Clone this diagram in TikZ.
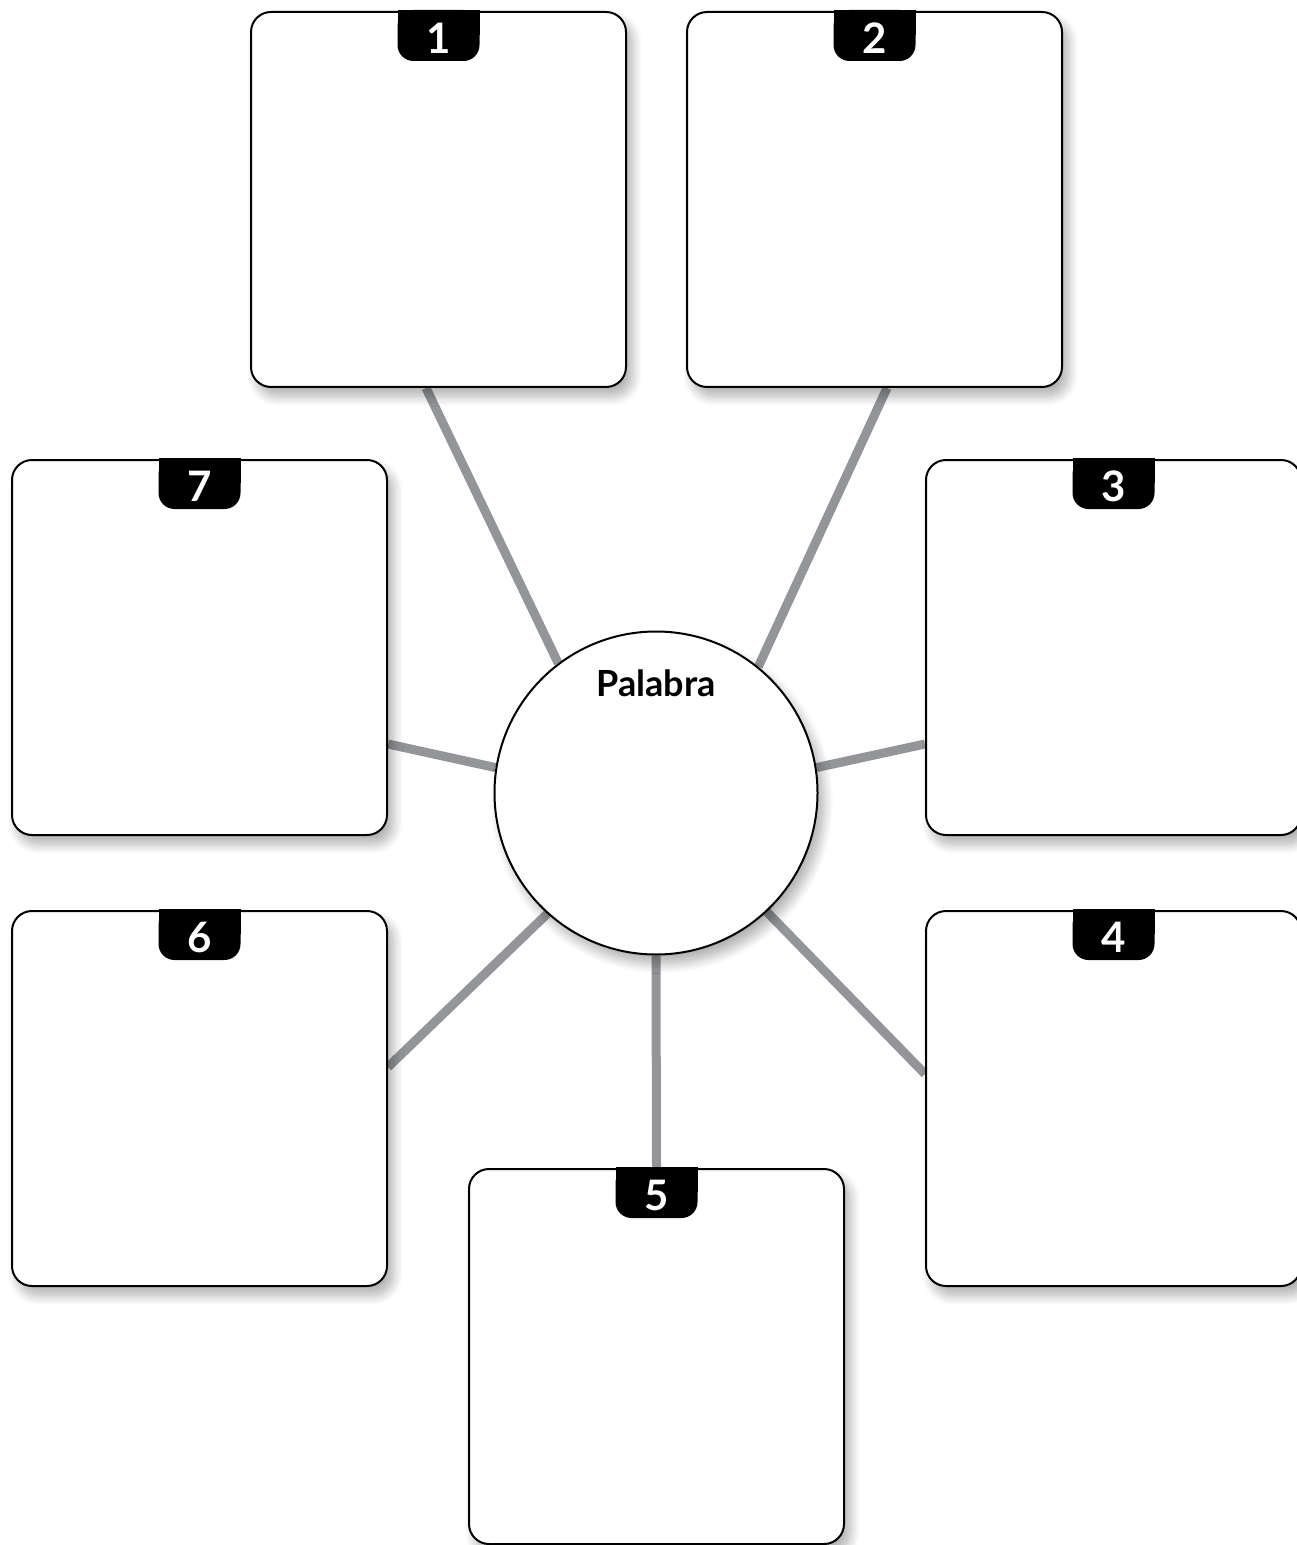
\documentclass[tikz,border=0pt]{standalone}
\usepackage{fontspec}
\setmainfont{Lato}
\usetikzlibrary{shadows.blur,calc,backgrounds}
\definecolor{linkgray}{HTML}{939598}
\tikzset{
  softshadow/.style={blur shadow={shadow xshift=3pt, shadow yshift=-4.5pt, shadow blur radius=5pt, shadow blur steps=10, shadow opacity=32}},
  card/.style={draw=black, line width=1pt, fill=white, rounded corners=10pt,
    minimum width=187.5pt, minimum height=187.5pt, inner sep=0pt, softshadow},
  hub/.style={circle, draw=black, line width=1pt, fill=white, minimum size=161.5pt, inner sep=0pt, softshadow},
  link/.style={draw=linkgray, line width=4.5pt},
  numtext/.style={text=white, font=\bfseries\fontsize{21}{21}\selectfont, inner sep=0pt},
  hubtext/.style={font=\bfseries\fontsize{18}{18}\selectfont, inner sep=0pt},
  tabfill/.style={fill=black}
}
\newcommand\cardtab[2]{%
  \fill[tabfill, rounded corners=8pt] ($(#1.north)+(-41,-1)$) rectangle ++(82,51);
  \fill[tabfill] ($(#1.north)+(-41,-1)$) rectangle ++(82,25);
  \node[numtext] (t#2) at ($(#1.north)+(0,27)$) {#2};
}
\begin{document}
\begin{tikzpicture}[x=0.5pt,y=-0.5pt]
\useasboundingbox (0,0) rectangle (1296,1545);
\node[card] (b1) at (438.5,199.5) {};
\node[card] (b2) at (874.5,199.5) {};
\node[card] (b7) at (199.5,647.5) {};
\node[card] (b3) at (1113.5,647.5) {};
\node[card] (b6) at (199.5,1098.5) {};
\node[card] (b4) at (1113.5,1098.5) {};
\node[card] (b5) at (656.5,1356.5) {};
\node[hub] (c) at (656,793) {};
\node[hubtext] (w) at (656,683) {Palabra};
\cardtab{b1}{1}
\cardtab{b2}{2}
\cardtab{b3}{3}
\cardtab{b4}{4}
\cardtab{b5}{5}
\cardtab{b6}{6}
\cardtab{b7}{7}
\begin{scope}[on background layer]
\draw[link] ($(b1.south west)+(176,0)$) -- (c.127.9);
\draw[link] ($(b2.south west)+(201,0)$) -- (c.51.8);
\draw[link] ($(b7.north east)+(0,285)$) -- (c.171);
\draw[link] ($(b3.north west)+(0,285)$) -- (c.9.5);
\draw[link] ($(b6.north east)+(0,157)$) -- (c.228.9);
\draw[link] ($(b4.north west)+(0,164)$) -- (c.313);
\draw[link] (b5.north) -- (c.south);
\end{scope}
\end{tikzpicture}
\end{document}
